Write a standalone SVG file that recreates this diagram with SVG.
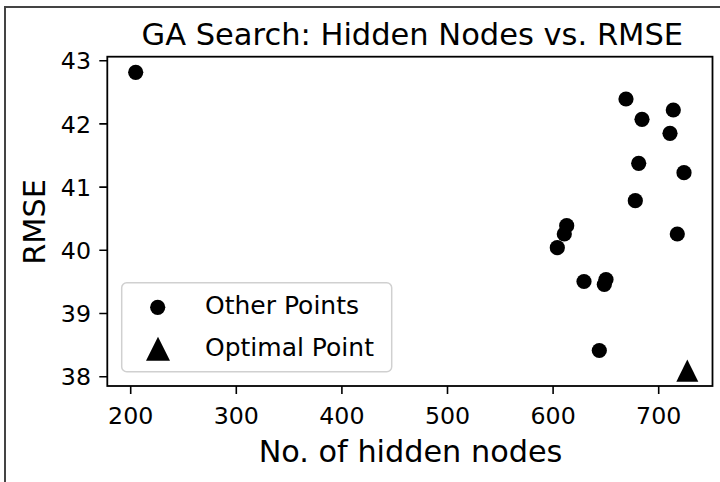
<svg xmlns="http://www.w3.org/2000/svg" width="720" height="482" viewBox="0 0 720 482">
<style>
text{font-family:"DejaVu Sans","Liberation Sans",sans-serif;fill:#000}
.tk{font-size:23.7px}
.lab{font-size:30.3px}
.leg{font-size:25px}
.tick{stroke:#000;stroke-width:1.6}
.pt{fill:#000}
</style>
<defs>
<circle id="dot" r="7.6" class="pt"/>
</defs>
<rect width="720" height="482" fill="#fff"/>
<path d="M5,482 V7 H720" fill="none" stroke="#444" stroke-width="2"/>
<g id="title"><text x="141.5" y="45" style="font-size:30.5px">GA Search: Hidden Nodes vs. RMSE</text></g>
<g id="axes">
<rect x="107.3" y="56.7" width="605.2" height="329.3" fill="none" stroke="#000" stroke-width="1.8"/>
</g>
<g id="xticks">
<path class="tick" d="M130.7,386v8M236.3,386v8M341.9,386v8M447.5,386v8M553.1,386v8M658.7,386v8"/>
<g class="tk" text-anchor="middle">
<text x="130.7" y="424">200</text>
<text x="236.3" y="424">300</text>
<text x="341.9" y="424">400</text>
<text x="447.5" y="424">500</text>
<text x="553.1" y="424">600</text>
<text x="658.7" y="424">700</text>
</g>
</g>
<g id="yticks">
<path class="tick" d="M107.3,60.7h-8M107.3,123.9h-8M107.3,187.1h-8M107.3,250.3h-8M107.3,313.5h-8M107.3,376.7h-8"/>
<g class="tk" text-anchor="end">
<text x="91" y="69.3">43</text>
<text x="91" y="132.5">42</text>
<text x="91" y="195.7">41</text>
<text x="91" y="258.9">40</text>
<text x="91" y="322.1">39</text>
<text x="91" y="385.3">38</text>
</g>
</g>
<g id="xlabel"><text class="lab" x="410.5" y="461.5" text-anchor="middle">No. of hidden nodes</text></g>
<g id="ylabel"><text class="lab" x="45" y="222" text-anchor="middle" transform="rotate(-90 45 222)">RMSE</text></g>
<g id="points">
<use href="#dot" x="135.7" y="72.3"/>
<use href="#dot" x="626" y="99"/>
<use href="#dot" x="673.3" y="110"/>
<use href="#dot" x="642" y="119.3"/>
<use href="#dot" x="670" y="133.3"/>
<use href="#dot" x="638.7" y="163.3"/>
<use href="#dot" x="684" y="172.7"/>
<use href="#dot" x="635.3" y="200.7"/>
<use href="#dot" x="677.3" y="234"/>
<use href="#dot" x="566.7" y="225.7"/>
<use href="#dot" x="564.3" y="234"/>
<use href="#dot" x="557.3" y="247.7"/>
<use href="#dot" x="584" y="281.5"/>
<use href="#dot" x="606" y="279.5"/>
<use href="#dot" x="604.3" y="284.5"/>
<use href="#dot" x="599.3" y="350.5"/>
</g>
<g id="optimal"><path class="pt" d="M687.3,359.5 L698.3,381.7 L676.3,381.7 Z"/></g>
<g id="legend">
<rect x="121.7" y="282.7" width="270" height="89" rx="5" fill="#fff" fill-opacity="0.8" stroke="#d0d0d0" stroke-width="1.5"/>
<use href="#dot" x="157.7" y="307.3"/>
<path class="pt" d="M158,336.7 L170,360.7 L146,360.7 Z"/>
<text class="leg" x="205" y="314">Other Points</text>
<text class="leg" x="205" y="356">Optimal Point</text>
</g>
</svg>
